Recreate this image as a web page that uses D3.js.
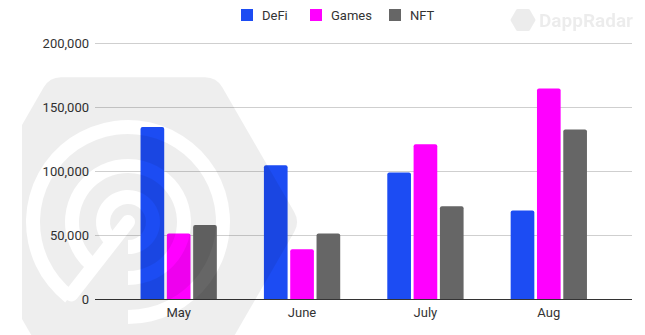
<!DOCTYPE html>
<html><head><meta charset="utf-8">
<script src="https://cdn.jsdelivr.net/npm/d3@7"></script>
<style>html,body{margin:0;padding:0;background:#fff;}svg{display:block;font-family:Roboto,"Noto Sans",sans-serif;}</style>
</head><body>
<svg id="c" width="645" height="335"></svg>
<script>
const categories = ["May", "June", "July", "Aug"];
const seriesNames = ["DeFi", "Games", "NFT"];
const defi  = [134800, 104900, 99200, 69500];
const games = [51500, 39300, 121300, 164800];
const nft   = [58300, 51600, 72900, 132800];
const yTicks = [0, 50000, 100000, 150000, 200000];
const colors = ["#1c4cf3", "#ff00ff", "#666666"];

const values = [defi, games, nft];
const svg = d3.select("#c");

const y = d3.scaleLinear().domain([0, 200000]).range([299.5, 43.5]);
const x0 = d3.scaleBand().domain(categories).range([117, 610.5]).padding(0);
const groupW = 76.3;
const x1 = d3.scaleBand().domain(seriesNames).range([0, groupW]).paddingInner(0.1).paddingOuter(0);
const gridX0 = 95, gridX1 = 632;

// gridlines
svg.append("g").selectAll("line").data(yTicks.filter(d => d > 0)).join("line")
  .attr("x1", gridX0).attr("x2", gridX1)
  .attr("y1", d => y(d)).attr("y2", d => y(d))
  .attr("stroke", "#cfcfcf").attr("stroke-width", 1);

// y tick labels
const fmt = d3.format(",");
svg.append("g").selectAll("text").data(yTicks).join("text")
  .attr("x", 89).attr("y", d => y(d)).attr("dy", "0.35em")
  .attr("text-anchor", "end").attr("font-size", 13).attr("fill", "#333")
  .text(d => fmt(d));

// bars
function barPath(x, yTop, w, yBase, r) {
  r = Math.min(r, (yBase - yTop) / 2, w / 2);
  return `M${x},${yBase}V${yTop + r}Q${x},${yTop} ${x + r},${yTop}H${x + w - r}Q${x + w},${yTop} ${x + w},${yTop + r}V${yBase}Z`;
}
const barData = [];
categories.forEach((c, i) => {
  seriesNames.forEach((s, j) => barData.push({ c, s, j, v: values[j][i] }));
});
const gx = c => x0(c) + (x0.bandwidth() - groupW) / 2;
svg.append("g").selectAll("path").data(barData).join("path")
  .attr("d", d => barPath(gx(d.c) + x1(d.s), y(d.v), x1.bandwidth(), y(0), 2))
  .attr("fill", d => colors[d.j]);

// zero axis line
svg.append("line").attr("x1", gridX0).attr("x2", gridX1)
  .attr("y1", y(0)).attr("y2", y(0)).attr("stroke", "#333").attr("stroke-width", 1);

// x labels
svg.append("g").selectAll("text").data(categories).join("text")
  .attr("x", d => x0(d) + x0.bandwidth() / 2).attr("y", 317)
  .attr("text-anchor", "middle").attr("font-size", 13).attr("fill", "#333")
  .text(d => d);

// legend
const legX = [241, 310, 389];
const leg = svg.append("g").selectAll("g").data(seriesNames).join("g")
  .attr("transform", (d, i) => `translate(${legX[i]},9)`);
leg.append("rect").attr("width", 12).attr("height", 12).attr("fill", (d, i) => colors[i]);
leg.append("text").attr("x", 21).attr("y", 11).attr("font-size", 13).attr("fill", "#333").text(d => d);

// watermark (big logo) drawn on top with a mask
const defs = svg.append("defs");
const cx = 133, cy = 222, R = 167, cr = 20;
const Rin = R - cr / Math.cos(Math.PI / 6);
const hexPts = d3.range(6).map(k => {
  const a = k * Math.PI / 3;
  return [cx + Rin * Math.cos(a), cy + Rin * Math.sin(a)];
});
const mask = defs.append("mask").attr("id", "wm").attr("maskUnits", "userSpaceOnUse")
  .attr("x", 0).attr("y", 0).attr("width", 645).attr("height", 335);
mask.append("polygon").attr("points", hexPts.map(p => p.join(",")).join(" "))
  .attr("fill", "#fff").attr("stroke", "#fff").attr("stroke-width", 2 * cr).attr("stroke-linejoin", "round");
const lcx = 128, lcy = 222;
const deg = a => a * Math.PI / 180;
const rings = [
  { ri: 88, ro: 102, s: 218, e: 540 },
  { ri: 49, ro: 63, s: 222, e: 540 },
  { ri: 18, ro: 32, s: 225, e: 540 }
];
const arc = d3.arc();
mask.append("g").attr("transform", `translate(${lcx},${lcy})`).selectAll("path").data(rings).join("path")
  .attr("d", d => arc({ innerRadius: d.ri, outerRadius: d.ro, startAngle: deg(d.s), endAngle: deg(d.e) }))
  .attr("fill", "#000");
const ta = deg(218);
mask.append("line").attr("x1", lcx).attr("y1", lcy)
  .attr("x2", lcx + 92 * Math.sin(ta)).attr("y2", lcy - 92 * Math.cos(ta))
  .attr("stroke", "#000").attr("stroke-width", 14).attr("stroke-linecap", "round");
defs.append("clipPath").attr("id", "wmclip").append("rect")
  .attr("x", 22).attr("y", 0).attr("width", 623).attr("height", 335);
svg.append("g").attr("clip-path", "url(#wmclip)")
  .append("rect").attr("x", 0).attr("y", 0).attr("width", 645).attr("height", 335)
  .attr("fill", "#000").attr("fill-opacity", 0.065).attr("mask", "url(#wm)");

// small DappRadar mark top-right
const sx = 523, sy = 20, sr = 11;
const smallHex = d3.range(6).map(k => {
  const a = k * Math.PI / 3;
  return [sx + sr * Math.cos(a), sy + sr * Math.sin(a)];
});
const mk = svg.append("g").attr("opacity", 0.07);
mk.append("polygon").attr("points", smallHex.map(p => p.join(",")).join(" "))
  .attr("fill", "#000").attr("stroke", "#000").attr("stroke-width", 3).attr("stroke-linejoin", "round");
mk.append("text").attr("x", 539).attr("y", 27).attr("font-size", 19).attr("font-weight", "bold")
  .attr("fill", "#000").text("DappRadar");
</script>
</body></html>
